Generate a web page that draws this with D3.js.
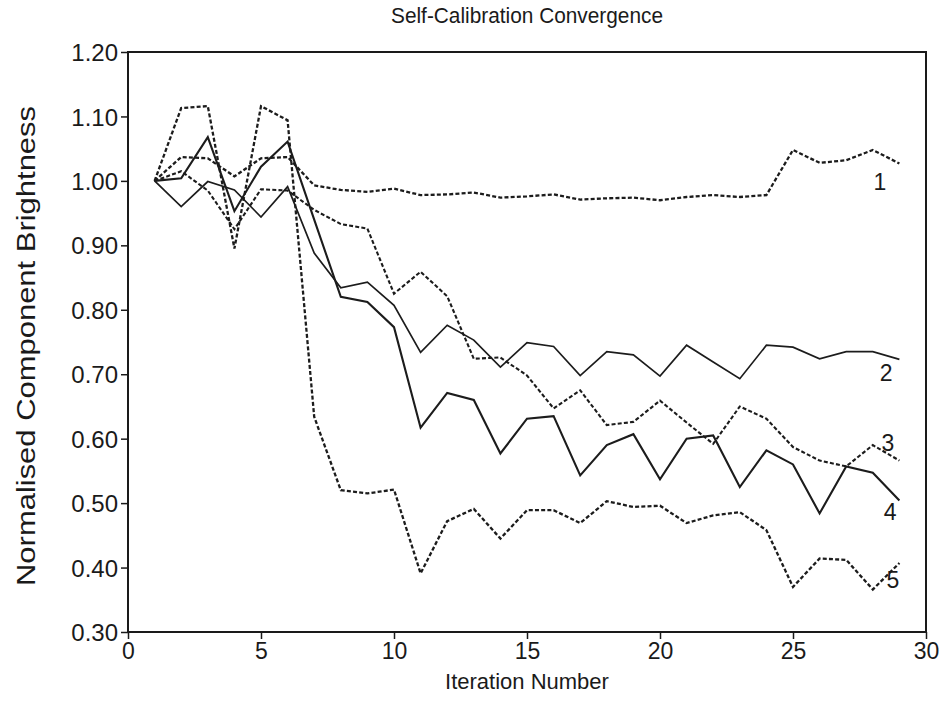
<!DOCTYPE html>
<html>
<head>
<meta charset="utf-8">
<script src="https://cdn.jsdelivr.net/npm/d3@7/dist/d3.min.js"></script>
<style>
  html, body { margin: 0; padding: 0; background: #ffffff; }
  svg { display: block; }
  text { font-family: "Liberation Sans", Arial, Helvetica, sans-serif; fill: #1a1a1a; }
</style>
</head>
<body>
<svg id="chart" width="944" height="708"></svg>
<script>
// Iteration numbers along the x axis
const iterations = [1, 2, 3, 4, 5, 6, 7, 8, 9, 10, 11, 12, 13, 14, 15,
                    16, 17, 18, 19, 20, 21, 22, 23, 24, 25, 26, 27, 28, 29];

// Normalised brightness of each component per iteration
const comp1 = [1.000, 1.037, 1.035, 1.007, 1.035, 1.037, 0.993, 0.986, 0.983, 0.988,
               0.978, 0.979, 0.982, 0.974, 0.976, 0.979, 0.971, 0.973, 0.974, 0.970,
               0.975, 0.978, 0.975, 0.978, 1.048, 1.028, 1.032, 1.048, 1.027];
const comp2 = [1.000, 0.960, 0.999, 0.986, 0.944, 0.991, 0.888, 0.834, 0.843, 0.807,
               0.734, 0.776, 0.753, 0.711, 0.749, 0.743, 0.698, 0.735, 0.730, 0.697,
               0.745, 0.719, 0.693, 0.745, 0.742, 0.724, 0.735, 0.735, 0.723];
const comp3 = [1.000, 1.015, 0.985, 0.925, 0.987, 0.985, 0.955, 0.933, 0.926, 0.825,
               0.859, 0.821, 0.724, 0.726, 0.698, 0.647, 0.675, 0.621, 0.626, 0.659,
               0.625, 0.592, 0.650, 0.631, 0.587, 0.566, 0.557, 0.590, 0.566];
const comp4 = [1.000, 1.004, 1.068, 0.953, 1.022, 1.061, 0.940, 0.820, 0.812, 0.773,
               0.617, 0.671, 0.660, 0.577, 0.631, 0.635, 0.543, 0.590, 0.607, 0.537,
               0.600, 0.605, 0.525, 0.582, 0.560, 0.484, 0.557, 0.547, 0.504];
const comp5 = [1.000, 1.113, 1.116, 0.895, 1.116, 1.094, 0.634, 0.520, 0.515, 0.521,
               0.391, 0.472, 0.491, 0.445, 0.489, 0.489, 0.469, 0.503, 0.494, 0.496,
               0.469, 0.481, 0.486, 0.458, 0.370, 0.414, 0.412, 0.366, 0.407];

const seriesNames = ["1", "2", "3", "4", "5"];
const seriesValues = [comp1, comp2, comp3, comp4, comp5];

// Axis ticks
const xTicks = [0, 5, 10, 15, 20, 25, 30];
const yTicks = [0.30, 0.40, 0.50, 0.60, 0.70, 0.80, 0.90, 1.00, 1.10, 1.20];

const svg = d3.select("#chart");
const W = 944, H = 708;
const margin = { top: 52, right: 18, bottom: 76, left: 128 };
const innerW = W - margin.left - margin.right;
const innerH = H - margin.top - margin.bottom;

svg.append("rect").attr("width", W).attr("height", H).attr("fill", "#ffffff");

const x = d3.scaleLinear().domain([0, 30]).range([0, innerW]);
const y = d3.scaleLinear().domain([0.30, 1.20]).range([innerH, 0]);

const g = svg.append("g").attr("transform", `translate(${margin.left},${margin.top})`);

// Line styles per component: dashed for odd components, solid for even
const styles = [
  { dash: "4,2.2", width: 2.3 },
  { dash: null,    width: 1.7 },
  { dash: "4,2.2", width: 2.1 },
  { dash: null,    width: 2.1 },
  { dash: "4,2.2", width: 2.3 }
];

const line = d3.line()
  .x((d, i) => x(iterations[i]))
  .y(d => y(d));

seriesValues.forEach((vals, k) => {
  const p = g.append("path")
    .datum(vals)
    .attr("d", line)
    .attr("fill", "none")
    .attr("stroke", "#1c1c1c")
    .attr("stroke-width", styles[k].width)
    .attr("stroke-linejoin", "miter");
  if (styles[k].dash) p.attr("stroke-dasharray", styles[k].dash);
});

// Component number labels beside each curve end
const labelAnchors = [[28.27, 0.999], [28.5, 0.702], [28.57, 0.593], [28.65, 0.486], [28.76, 0.380]];
seriesNames.forEach((name, k) => {
  g.append("text")
    .attr("x", x(labelAnchors[k][0]))
    .attr("y", y(labelAnchors[k][1]))
    .attr("text-anchor", "middle")
    .attr("dominant-baseline", "central")
    .attr("font-size", 23)
    .text(name);
});

// Axes
const xAxis = g.append("g")
  .attr("transform", `translate(0,${innerH})`)
  .call(d3.axisBottom(x).tickValues(xTicks).tickFormat(d3.format("d")).tickSize(7).tickPadding(4));
const yAxis = g.append("g")
  .call(d3.axisLeft(y).tickValues(yTicks).tickFormat(d3.format(".2f")).tickSize(7).tickPadding(3));

[xAxis, yAxis].forEach(a => {
  a.select(".domain").remove();
  a.selectAll(".tick line").attr("stroke", "#1a1a1a").attr("stroke-width", 1.5);
  a.selectAll(".tick text").attr("fill", "#1a1a1a")
    .style("font-family", "'Liberation Sans', Arial, sans-serif");
});
xAxis.selectAll(".tick text").attr("font-size", 23);
yAxis.selectAll(".tick text").attr("font-size", 24).attr("dy", "0.36em");

// Plot frame
g.append("rect")
  .attr("x", 0).attr("y", 0)
  .attr("width", innerW).attr("height", innerH)
  .attr("fill", "none")
  .attr("stroke", "#1a1a1a")
  .attr("stroke-width", 2);

// Title and axis titles
svg.append("text")
  .attr("x", margin.left + innerW / 2)
  .attr("y", 23)
  .attr("text-anchor", "middle")
  .attr("font-size", 22)
  .attr("textLength", 272)
  .attr("lengthAdjust", "spacingAndGlyphs")
  .text("Self-Calibration Convergence");

svg.append("text")
  .attr("x", margin.left + innerW / 2)
  .attr("y", 689)
  .attr("text-anchor", "middle")
  .attr("font-size", 22)
  .text("Iteration Number");

svg.append("text")
  .attr("transform", `translate(35,${margin.top + innerH / 2 + 4}) rotate(-90)`)
  .attr("text-anchor", "middle")
  .attr("font-size", 25)
  .attr("textLength", 480)
  .attr("lengthAdjust", "spacingAndGlyphs")
  .text("Normalised Component Brightness");
</script>
</body>
</html>
